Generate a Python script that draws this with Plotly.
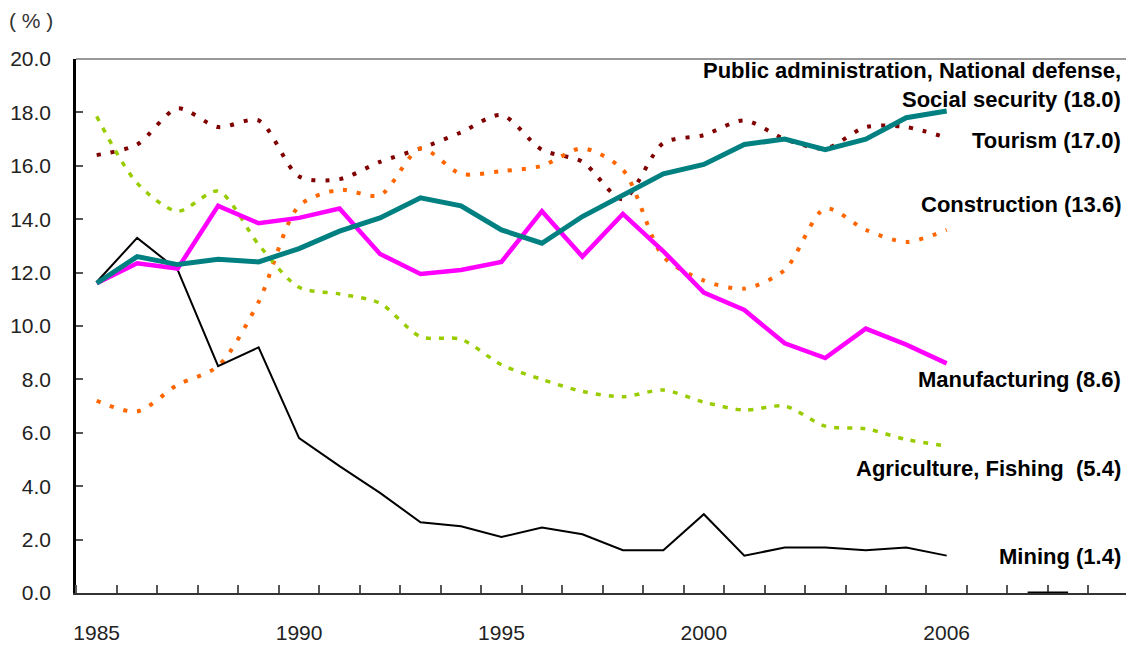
import plotly.graph_objects as go

years = list(range(1985, 2007))
public_admin = [11.6, 12.6, 12.3, 12.5, 12.4, 12.9, 13.55, 14.05, 14.8, 14.5, 13.6, 13.1, 14.1, 14.9, 15.7, 16.05, 16.8, 17.0, 16.6, 17.0, 17.8, 18.05]
manufacturing = [11.6, 12.35, 12.15, 14.5, 13.85, 14.05, 14.4, 12.7, 11.95, 12.1, 12.4, 14.3, 12.6, 14.2, 12.8, 11.25, 10.6, 9.35, 8.8, 9.9, 9.3, 8.6]
mining = [11.65, 13.3, 12.1, 8.5, 9.2, 5.8, 4.75, 3.75, 2.65, 2.5, 2.1, 2.45, 2.2, 1.6, 1.6, 2.95, 1.4, 1.7, 1.7, 1.6, 1.7, 1.4]
tourism = [16.4, 16.8, 18.15, 17.45, 17.7, 15.6, 15.5, 16.15, 16.65, 17.25, 17.9, 16.6, 16.15, 14.75, 16.85, 17.15, 17.7, 17.0, 16.65, 17.45, 17.45, 17.05]
construction = [7.2, 6.8, 7.8, 8.5, 10.9, 14.5, 15.1, 14.9, 16.65, 15.7, 15.8, 16.0, 16.65, 15.85, 12.6, 11.7, 11.4, 12.1, 14.4, 13.6, 13.15, 13.6]
agriculture = [17.85, 15.35, 14.3, 15.05, 13.05, 11.45, 11.2, 10.85, 9.6, 9.5, 8.55, 8.0, 7.55, 7.35, 7.6, 7.15, 6.85, 7.0, 6.25, 6.15, 5.75, 5.5]

tick_years = [1985, 1990, 1995, 2000, 2006]
tick_labels = ["1985", "1990", "1995", "2000", "2006"]
y_ticks = [0, 2, 4, 6, 8, 10, 12, 14, 16, 18, 20]

labels = [
    ("Public administration, National defense,", 19.56),
    ("Social security (18.0)", 18.5),
    ("Tourism (17.0)", 16.93),
    ("Construction (13.6)", 14.56),
    ("Manufacturing (8.6)", 7.99),
    ("Agriculture, Fishing  (5.4)", 4.68),
    ("Mining (1.4)", 1.36),
]

FONT = "Liberation Sans, Arial, sans-serif"

fig = go.Figure()

fig.add_trace(go.Scatter(x=years, y=tourism, mode="lines", name="Tourism",
                         line=dict(color="#800000", width=4, dash="4px,10px", shape="spline", smoothing=0.8)))
fig.add_trace(go.Scatter(x=years, y=construction, mode="lines", name="Construction",
                         line=dict(color="#FF6600", width=4, dash="4px,10px", shape="spline", smoothing=0.8)))
fig.add_trace(go.Scatter(x=years, y=agriculture, mode="lines", name="Agriculture, Fishing",
                         line=dict(color="#99CC00", width=3.5, dash="5px,8px", shape="spline", smoothing=0.8)))
fig.add_trace(go.Scatter(x=years, y=mining, mode="lines", name="Mining",
                         line=dict(color="#000000", width=2)))
fig.add_trace(go.Scatter(x=years, y=manufacturing, mode="lines", name="Manufacturing",
                         line=dict(color="#FF00FF", width=4.5)))
fig.add_trace(go.Scatter(x=years, y=public_admin, mode="lines", name="Public administration",
                         line=dict(color="#008080", width=5)))

for text, yv in labels:
    fig.add_annotation(text=text, xref="paper", yref="y", x=0.997, y=yv,
                       xanchor="right", yanchor="middle", showarrow=False,
                       font=dict(family=FONT, size=22, color="#000000", weight="bold"))

fig.add_annotation(text="( % )", xref="paper", yref="paper", x=-0.066, y=1.072,
                   xanchor="left", yanchor="middle", showarrow=False,
                   font=dict(family=FONT, size=21, color="#333333"))

# top border
fig.add_shape(type="line", xref="paper", yref="paper", x0=0, x1=1, y0=1, y1=1,
              line=dict(color="#999999", width=2))
# small dark bar on the axis
fig.add_shape(type="line", xref="x", yref="y", x0=2008, x1=2009, y0=0, y1=0,
              line=dict(color="#000000", width=3))

fig.update_layout(
    width=1126, height=649,
    margin=dict(l=76, r=0, t=59, b=56),
    paper_bgcolor="white", plot_bgcolor="white",
    showlegend=False,
    font=dict(family=FONT, color="#222222"),
    xaxis=dict(range=[1984.489, 2010.43], showgrid=False, zeroline=False,
               showline=True, linecolor="#333333", linewidth=2,
               tickmode="array", tickvals=tick_years, ticktext=tick_labels,
               ticks="", tickfont=dict(size=21, color="#222222"),
               ticklabelstandoff=20,
               minor=dict(ticks="inside", ticklen=8, tickwidth=1.5, tickcolor="#555555",
                          dtick=1, tick0=1985.5, showgrid=False)),
    yaxis=dict(range=[0, 20], showgrid=False, zeroline=False,
               showline=True, linecolor="#000000", linewidth=2.5,
               tickmode="array", tickvals=y_ticks,
               ticktext=[f"{v:.1f}" for v in y_ticks],
               ticks="inside", ticklen=7, tickwidth=1.5, tickcolor="#555555",
               tickfont=dict(size=21, color="#222222"),
               ticklabelstandoff=18),
)

fig.write_html("out.html", config={"displayModeBar": False},
               post_script="document.body.style.margin='0';document.body.style.overflow='hidden';")
